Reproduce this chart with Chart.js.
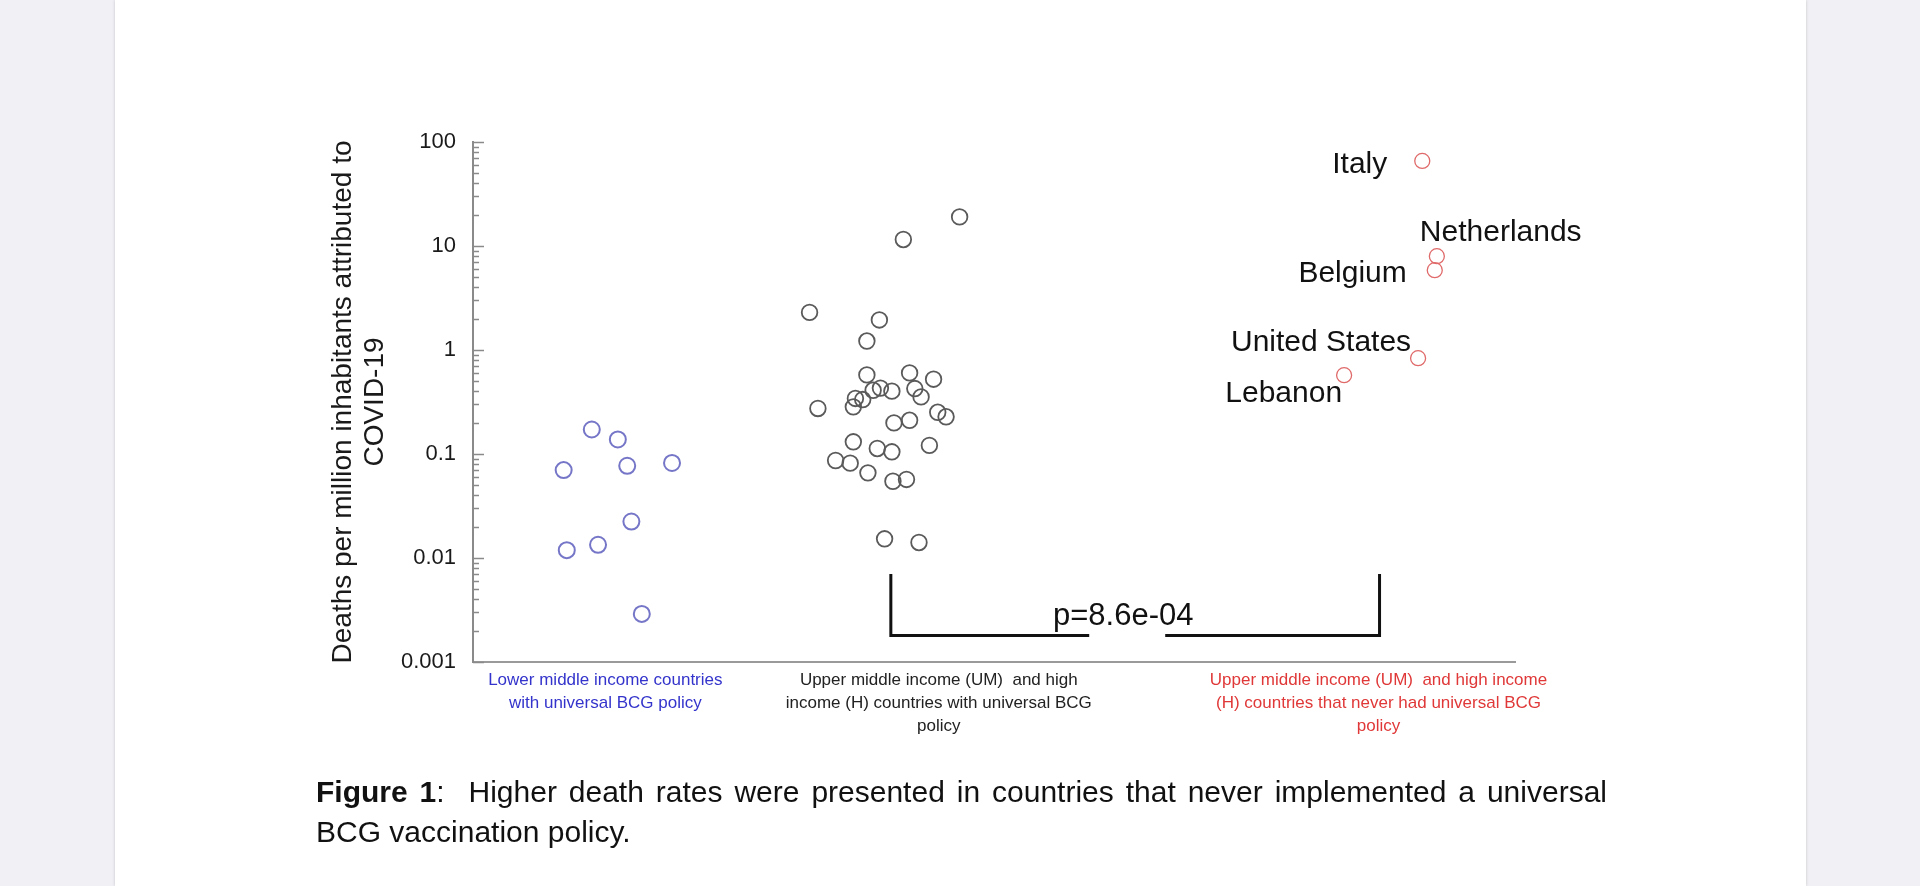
<!DOCTYPE html>
<html>
<head>
<meta charset="utf-8">
<title>Figure 1 - BCG policy and COVID-19 deaths</title>
<script src="https://cdn.jsdelivr.net/npm/chart.js@4.4.1/dist/chart.umd.min.js"></script>
<style>
  html, body { margin: 0; padding: 0; }
  body {
    width: 1920px; height: 886px; overflow: hidden; position: relative;
    background: #f0f0f5;
    font-family: 'Liberation Sans', Arial, sans-serif;
  }
  .page {
    position: absolute; left: 115px; top: 0; width: 1691px; height: 886px;
    background: #fff; box-shadow: 0 0 3px rgba(0, 0, 0, 0.18);
  }
  #chart { position: absolute; left: 0; top: 0; }
  .caption {
    position: absolute; left: 316px; top: 772px; width: 1291px;
    font-size: 30px; line-height: 39.5px; color: #111;
  }
  .caption .first { text-align: justify; text-align-last: justify; }
</style>
</head>
<body>
<div class="page"></div>
<canvas id="chart" width="1920" height="886"></canvas>
<div class="caption">
  <div class="first"><b>Figure 1</b>:&nbsp; Higher death rates were presented in countries that never implemented a universal</div>
  <div>BCG vaccination policy.</div>
</div>
<script>
// x = jittered position along the x axis (0..100), y = deaths per million inhabitants
const lowerX = [11.4, 13.9, 8.7, 14.8, 19.1, 15.2, 9.0, 12.0, 16.2];
const lowerY = [0.172, 0.138, 0.070, 0.077, 0.082, 0.0224, 0.0119, 0.0134, 0.0029];

const bcgX = [46.7, 41.3, 32.3, 39.0, 37.8, 37.8, 41.9, 44.2, 33.1, 36.7, 36.5,
              37.4, 38.4, 39.1, 40.2, 42.4, 43.0, 44.6, 45.4, 40.4, 41.9, 36.5,
              38.8, 40.2, 43.8, 34.8, 36.2, 37.9, 40.3, 41.6, 39.5, 42.8];
const bcgY = [19.05, 11.55, 2.30, 1.945, 1.22, 0.576, 0.602, 0.524, 0.274, 0.342, 0.284,
              0.334, 0.410, 0.430, 0.402, 0.426, 0.354, 0.252, 0.228, 0.199, 0.211, 0.131,
              0.113, 0.105, 0.121, 0.0866, 0.0817, 0.0659, 0.0547, 0.0569, 0.0153, 0.0141];

const noBcgNames = ['Italy', 'Netherlands', 'Belgium', 'United States', 'Lebanon'];
const noBcgX = [91.1, 92.5, 92.3, 90.7, 83.6];
const noBcgY = [65.8, 7.98, 5.85, 0.834, 0.573];

const catLabels = [
    ['Lower middle income countries', 'with universal BCG policy'],
    ['Upper middle income (UM)  and high', 'income (H) countries with universal BCG', 'policy'],
    ['Upper middle income (UM)  and high income', '(H) countries that never had universal BCG', 'policy']
];
const catPos = [12.7, 44.7, 86.9];
const catColors = ['#3434cc', '#222222', '#e03838'];

const yMajorTicks = [0.001, 0.01, 0.1, 1, 10, 100];
const yTickLabels = ['0.001', '0.01', '0.1', '1', '10', '100'];

const pValue = 'p=8.6e-04';

const FONT = "'Liberation Sans', Arial, sans-serif";

// minor ticks 2..9 inside each decade
const yAllTicks = [];
yMajorTicks.forEach(function (m, i) {
    yAllTicks.push(m);
    if (i < yMajorTicks.length - 1) {
        for (let k = 2; k <= 9; k++) yAllTicks.push(+(m * k).toPrecision(3));
    }
});

function toPoints(xs, ys) {
    return xs.map(function (x, i) { return { x: x, y: ys[i] }; });
}

//inward tick marks on the log axis
const innerTicks = {
    id: 'innerTicks',
    afterDraw: function (chart) {
        const ys = chart.scales.y;
        const ctx = chart.ctx;
        const ax = chart.chartArea.left;
        ctx.save();
        ctx.strokeStyle = '#8a8a8a';
        ctx.lineWidth = 1.5;
        ys.ticks.forEach(function (t) {
            const py = Math.round(ys.getPixelForValue(t.value)) + 0.5;
            const len = yMajorTicks.indexOf(t.value) >= 0 ? 11 : 6;
            ctx.beginPath();
            ctx.moveTo(ax, py);
            ctx.lineTo(ax + len, py);
            ctx.stroke();
        });
        ctx.restore();
    }
};

//country names next to the red points, and the p-value bracket
const annotations = {
    id: 'annotations',
    afterDatasetsDraw: function (chart, args, opts) {
        const ctx = chart.ctx;
        const xs = chart.scales.x, ys = chart.scales.y;
        const meta = chart.getDatasetMeta(2);
        ctx.save();
        ctx.fillStyle = '#111';
        ctx.font = '30px ' + FONT;
        ctx.textBaseline = 'alphabetic';
        meta.data.forEach(function (pt, i) {
            const o = opts.offsets[i];
            ctx.textAlign = o.align;
            ctx.fillText(noBcgNames[i], pt.x + o.dx, pt.y + o.dy);
        });

        const b = opts.bracket;
        const x1 = xs.getPixelForValue(b.from), x2 = xs.getPixelForValue(b.to);
        const yTop = ys.getPixelForValue(b.top), yBot = ys.getPixelForValue(b.bottom);
        const xt = xs.getPixelForValue(b.textAt);
        ctx.strokeStyle = '#111';
        ctx.lineWidth = 3;
        ctx.beginPath();
        ctx.moveTo(x1, yTop);
        ctx.lineTo(x1, yBot);
        ctx.lineTo(xt + 4 - b.gap, yBot);
        ctx.moveTo(xt + 4 + b.gap, yBot);
        ctx.lineTo(x2, yBot);
        ctx.lineTo(x2, yTop);
        ctx.stroke();
        ctx.font = '31px ' + FONT;
        ctx.textAlign = 'center';
        ctx.fillText(pValue, xt, yBot - 10);
        ctx.restore();
    }
};

const ctx = document.getElementById('chart').getContext('2d');
const myChart = new Chart(ctx, {
    type: 'scatter',
    data: {
        datasets: [
            {
                label: 'Lower middle income, universal BCG',
                data: toPoints(lowerX, lowerY),
                borderColor: '#7676c8',
                backgroundColor: 'rgba(0,0,0,0)',
                borderWidth: 2,
                pointRadius: 8
            },
            {
                label: 'UM and H income, universal BCG',
                data: toPoints(bcgX, bcgY),
                borderColor: '#5a5a5a',
                backgroundColor: 'rgba(0,0,0,0)',
                borderWidth: 1.8,
                pointRadius: 7.8
            },
            {
                label: 'UM and H income, never universal BCG',
                data: toPoints(noBcgX, noBcgY),
                borderColor: '#e06a6a',
                backgroundColor: 'rgba(0,0,0,0)',
                borderWidth: 1.3,
                pointRadius: 7.5
            }
        ]
    },
    options: {
        responsive: false,
        animation: false,
        layout: { padding: { left: 300, top: 142, right: 405, bottom: 124 } },
        plugins: {
            legend: { display: false },
            tooltip: { enabled: false },
            annotations: {
                offsets: [
                    { dx: -35, dy: 12, align: 'right' },
                    { dx: -17, dy: -15, align: 'left' },
                    { dx: -28, dy: 12, align: 'right' },
                    { dx: -7, dy: -7, align: 'right' },
                    { dx: -2, dy: 27, align: 'right' }
                ],
                bracket: { from: 40.1, to: 87.0, top: 0.007, bottom: 0.0018, textAt: 62.4, gap: 38 }
            }
        },
        scales: {
            x: {
                type: 'linear',
                min: 0,
                max: 100,
                grid: { display: false, drawTicks: false },
                border: { display: true, color: '#9a9a9a', width: 2 },
                afterBuildTicks: function (scale) {
                    scale.ticks = catPos.map(function (v) { return { value: v }; });
                },
                afterFit: function (scale) { scale.height = 100; },
                ticks: {
                    autoSkip: false,
                    maxRotation: 0,
                    minRotation: 0,
                    padding: 7,
                    font: { family: FONT, size: 17, lineHeight: 1.35 },
                    color: function (c) { return catColors[c.index]; },
                    callback: function (value, index) { return catLabels[index]; }
                }
            },
            y: {
                type: 'logarithmic',
                min: 0.001,
                max: 100,
                grid: { display: false, drawTicks: false },
                border: { display: true, color: '#8a8a8a', width: 2 },
                afterBuildTicks: function (scale) {
                    scale.ticks = yAllTicks.map(function (v) { return { value: v }; });
                },
                afterFit: function (scale) { scale.width = 173; },
                ticks: {
                    autoSkip: false,
                    padding: 17,
                    font: { family: FONT, size: 22 },
                    color: '#1a1a1a',
                    callback: function (value) {
                        const i = yMajorTicks.indexOf(value);
                        return i < 0 ? '' : yTickLabels[i];
                    }
                },
                title: {
                    display: true,
                    text: ['Deaths per million inhabitants attributed to', 'COVID-19'],
                    font: { family: FONT, size: 28, lineHeight: 32 / 28 },
                    color: '#1a1a1a',
                    padding: { top: 27, bottom: 0 }
                }
            }
        }
    },
    plugins: [innerTicks, annotations]
});
</script>
</body>
</html>
